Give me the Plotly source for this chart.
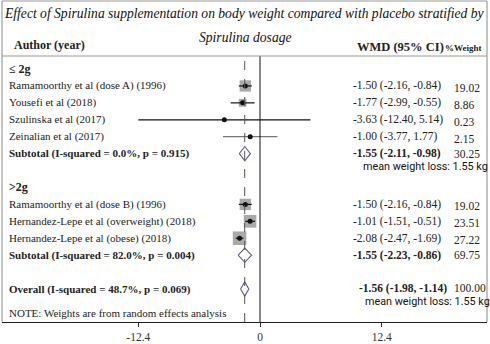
import numpy as np
import plotly.graph_objects as go

# ---- study level results (weighted mean difference, kg) ----
studies = [
    "Ramamoorthy et al (dose A) (1996)",
    "Yousefi et al (2018)",
    "Szulinska et al (2017)",
    "Zeinalian et al (2017)",
    "Ramamoorthy et al (dose B) (1996)",
    "Hernandez-Lepe et al (overweight) (2018)",
    "Hernandez-Lepe et al (obese) (2018)",
]
study_group = [0, 0, 0, 0, 1, 1, 1]
wmd = [-1.50, -1.77, -3.63, -1.00, -1.50, -1.01, -2.08]
ci_low = [-2.16, -2.99, -12.40, -3.77, -2.16, -1.51, -2.47]
ci_high = [-0.84, -0.55, 5.14, 1.77, -0.84, -0.51, -1.69]
weight = [19.02, 8.86, 0.23, 2.15, 19.02, 23.51, 27.22]

# ---- subgroup and pooled results ----
group_names = ["\u2264 2g", ">2g"]
subtotal_labels = ["Subtotal (I-squared = 0.0%, p = 0.915)",
                   "Subtotal (I-squared = 82.0%, p = 0.004)"]
sub_wmd = [-1.55, -1.55]
sub_low = [-2.11, -2.23]
sub_high = [-0.98, -0.86]
sub_weight = [30.25, 69.75]
sub_mean_loss = [1.55, None]

overall_label = "Overall (I-squared = 48.7%, p = 0.069)"
overall_wmd = -1.56
overall_low = -1.98
overall_high = -1.14
overall_weight = 100.00
overall_mean_loss = 1.55

note_text = "NOTE: Weights are from random effects analysis"
tick_vals = [-12.4, 0, 12.4]
tick_text = ["-12.4", "0", "12.4"]

title_1 = "Effect of Spirulina supplementation on body weight compared with placebo stratified by"
title_2 = "Spirulina dosage"

# ---- build the table rows (one row index per line of the plot) ----
rows = []
for g, name in enumerate(group_names):
    rows.append(("group", g))
    for i, sg in enumerate(study_group):
        if sg == g:
            rows.append(("study", i))
    rows.append(("subtotal", g))
    rows.append(("blank", None))
rows.append(("overall", None))
rows.append(("note", None))

SERIF = "Liberation Serif, Times New Roman, serif"
NARROW = "Roboto, Liberation Sans, sans-serif"
TXT = "#222222"
X_LABEL = -25.75      # left edge of study labels (data units)
X_WMD = 9.3           # left edge of the WMD column
X_WT = 19.6           # left edge of the weight column
BOX_K = 2.6           # marker side per sqrt(weight)
DIAM_H = 0.42         # diamond half-height (rows)
LBL_SIZE = 11
NUM_SIZE = 11.5
NOTE_SIZE = 10.8

def fmt(e, l, h):
    return f"{e:.2f} ({l:.2f}, {h:.2f})"

fig = go.Figure()
ann = []

def diamond(y, lo, est, hi):
    fig.add_trace(go.Scatter(
        x=[lo, est, hi, est, lo], y=[y, y - DIAM_H, y, y + DIAM_H, y],
        mode="lines", line=dict(color="#5b5894", width=1.1),
        hoverinfo="skip", showlegend=False))

for r, (kind, idx) in enumerate(rows):
    if kind == "group":
        ann.append(dict(x=X_LABEL, y=r, text=f"<b>{group_names[idx]}</b>",
                        xanchor="left", font=dict(family=SERIF, size=12, color=TXT)))
    elif kind == "study":
        i = idx
        ann.append(dict(x=X_LABEL, y=r, text=studies[i], xanchor="left",
                        font=dict(family=SERIF, size=LBL_SIZE, color=TXT)))
        # weight box
        fig.add_trace(go.Scatter(
            x=[wmd[i]], y=[r], mode="markers",
            marker=dict(symbol="square", size=BOX_K * np.sqrt(weight[i]),
                        color="#a9a9a9", line=dict(width=0)),
            hoverinfo="skip", showlegend=False))
        # confidence interval
        ci_col = "#777777" if (ci_high[i] - ci_low[i]) > 5 and ci_low[i] > -5 else "#111111"
        fig.add_trace(go.Scatter(
            x=[ci_low[i], ci_high[i]], y=[r, r], mode="lines",
            line=dict(color=ci_col, width=1.2), hoverinfo="skip", showlegend=False))
        # point estimate
        fig.add_trace(go.Scatter(
            x=[wmd[i]], y=[r], mode="markers",
            marker=dict(symbol="circle", size=5, color="#111111"),
            hoverinfo="skip", showlegend=False))
        ann.append(dict(x=X_WMD, y=r, text=fmt(wmd[i], ci_low[i], ci_high[i]),
                        xanchor="left", font=dict(family=SERIF, size=NUM_SIZE, color=TXT)))
        ann.append(dict(x=X_WT, y=r, text=f"{weight[i]:.2f}", xanchor="left", yshift=-2,
                        font=dict(family=SERIF, size=NUM_SIZE, color=TXT)))
    elif kind == "subtotal":
        g = idx
        ann.append(dict(x=X_LABEL, y=r, text=f"<b>{subtotal_labels[g]}</b>", xanchor="left",
                        font=dict(family=SERIF, size=LBL_SIZE, color=TXT)))
        diamond(r, sub_low[g], sub_wmd[g], sub_high[g])
        ann.append(dict(x=X_WMD, y=r, text=f"<b>{fmt(sub_wmd[g], sub_low[g], sub_high[g])}</b>",
                        xanchor="left", font=dict(family=SERIF, size=NUM_SIZE, color=TXT)))
        ann.append(dict(x=X_WT, y=r, text=f"{sub_weight[g]:.2f}", xanchor="left",
                        font=dict(family=SERIF, size=NUM_SIZE, color=TXT)))
        if sub_mean_loss[g] is not None:
            ann.append(dict(x=X_WMD + 1.0, y=r, yshift=-13,
                            text=f"mean weight loss: {sub_mean_loss[g]:.2f} kg",
                            xanchor="left", font=dict(family=NARROW, size=NOTE_SIZE, color="#111111")))
    elif kind == "overall":
        ann.append(dict(x=X_LABEL, y=r, text=f"<b>{overall_label}</b>", xanchor="left",
                        font=dict(family=SERIF, size=LBL_SIZE, color=TXT)))
        diamond(r, overall_low, overall_wmd, overall_high)
        ann.append(dict(x=X_WMD + 0.6, y=r, yshift=1,
                        text=f"<b>{fmt(overall_wmd, overall_low, overall_high)}</b>",
                        xanchor="left", font=dict(family=SERIF, size=NUM_SIZE, color=TXT)))
        ann.append(dict(x=X_WT, y=r, yshift=1, text=f"{overall_weight:.2f}", xanchor="left",
                        font=dict(family=SERIF, size=NUM_SIZE, color=TXT)))
        ann.append(dict(x=X_WMD + 1.2, y=r, yshift=-12,
                        text=f"mean weight loss: {overall_mean_loss:.2f} kg",
                        xanchor="left", font=dict(family=NARROW, size=NOTE_SIZE, color="#111111")))
    elif kind == "note":
        ann.append(dict(x=X_LABEL, y=r, yshift=-7, text=note_text, xanchor="left",
                        font=dict(family=SERIF, size=LBL_SIZE, color=TXT)))

for a in ann:
    a.update(xref="x", yref="y", showarrow=False, yanchor="middle")

# ---- header (paper coordinates; plot area spans 485 x 266 px) ----
def px_x(p):
    return (p - 2) / 485.0

def px_y(p):
    return (322 - p) / 266.0

header = [
    dict(x=px_x(244), y=px_y(14), text=f"<i>{title_1}</i>", xanchor="center",
         font=dict(family=SERIF, size=13.6, color="#111111")),
    dict(x=px_x(245), y=px_y(38), text=f"<i>{title_2}</i>", xanchor="center",
         font=dict(family=SERIF, size=13.6, color="#111111")),
    dict(x=px_x(12), y=px_y(45), text="<b>Author (year)</b>", xanchor="left",
         font=dict(family=SERIF, size=12, color=TXT)),
    dict(x=px_x(355), y=px_y(47), text="<b>WMD (95% CI)</b>", xanchor="left",
         font=dict(family=SERIF, size=12.5, color=TXT)),
    dict(x=px_x(443), y=px_y(48), text="<b>%Weight</b>", xanchor="left",
         font=dict(family=SERIF, size=9, color=TXT)),
]
for a in header:
    a.update(xref="paper", yref="paper", showarrow=False, yanchor="middle")

shapes = [
    # null line and pooled-estimate line
    dict(type="line", xref="x", yref="paper", x0=0, x1=0, y0=0, y1=1,
         line=dict(color="#111111", width=1)),
    dict(type="line", xref="x", yref="paper", x0=overall_wmd, x1=overall_wmd, y0=0, y1=1,
         line=dict(color="#555555", width=1, dash="dash")),
    # frame
    dict(type="line", xref="paper", yref="paper", x0=0, x1=0, y0=0, y1=px_y(1),
         line=dict(color="#888888", width=1)),
    dict(type="line", xref="paper", yref="paper", x0=1, x1=1, y0=0, y1=px_y(1),
         line=dict(color="#888888", width=1)),
    dict(type="line", xref="paper", yref="paper", x0=0, x1=1, y0=px_y(1), y1=px_y(1),
         line=dict(color="#999999", width=1)),
    dict(type="line", xref="paper", yref="paper", x0=0, x1=1, y0=1, y1=1,
         line=dict(color="#999999", width=1)),
]

fig.update_layout(
    width=490, height=344,
    margin=dict(l=2, r=3, t=56, b=22),
    paper_bgcolor="white", plot_bgcolor="white",
    showlegend=False,
    annotations=ann + header,
    shapes=shapes,
    xaxis=dict(range=[-26.29, 23.13], tickvals=tick_vals, ticktext=tick_text,
               ticks="outside", ticklen=4, tickcolor="#333333",
               showline=True, linecolor="#222222", linewidth=1, mirror=False,
               showgrid=False, zeroline=False,
               tickfont=dict(family=SERIF, size=11.5, color="#333333")),
    yaxis=dict(range=[14.95, -0.77], visible=False, showgrid=False, zeroline=False),
)

fig.write_html("out.html")
